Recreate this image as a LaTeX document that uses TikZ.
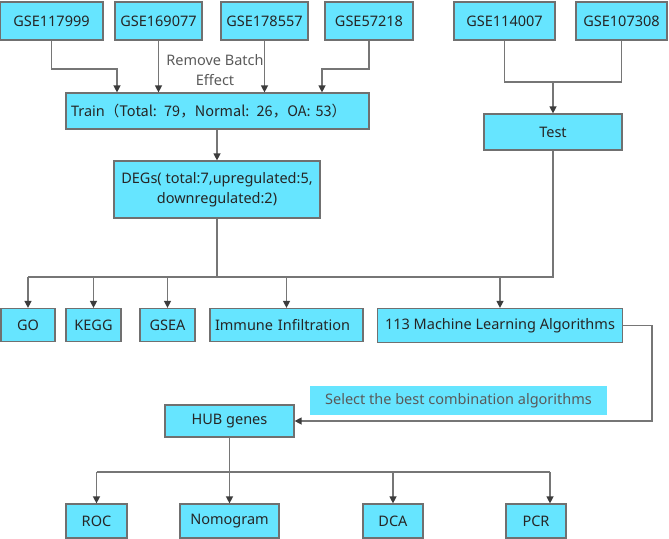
\documentclass[tikz,border=0pt]{standalone}
\usepackage{fontspec}
\setmainfont{Noto Sans}
\newfontfamily\cjk{Noto Sans CJK SC}
\usetikzlibrary{arrows.meta}

\definecolor{celeste}{RGB}{102,229,255}
\definecolor{borde}{RGB}{112,112,112}
\definecolor{linea}{RGB}{118,118,118}
\definecolor{punta}{RGB}{60,60,60}
\definecolor{texto}{RGB}{38,38,38}
\definecolor{nota}{RGB}{90,90,90}

\begin{document}
\begin{tikzpicture}[x=1pt,y=-1pt,
		caja/.style={draw=borde, line width=1.2pt, fill=celeste, inner sep=0pt,
			text=texto, font=\fontsize{14.5}{20}\selectfont},
		conector/.style={draw=linea, line width=1.3pt},
		flecha/.style={conector, -{Triangle[length=7pt,width=7pt,color=punta]}},
		rotulo/.style={text=nota, align=center, font=\fontsize{14.5}{20}\selectfont}]
		
		% Marco de la figura completa
		\useasboundingbox (0,0) rectangle (669,538);
		
		% Fila superior: conjuntos de datos GEO
		\node[caja, minimum width=103pt, minimum height=38pt] (gse1) at (51.5,21) {GSE117999};
		\node[caja, minimum width=87pt, minimum height=38pt] (gse2) at (158.5,21) {GSE169077};
		\node[caja, minimum width=87pt, minimum height=38pt] (gse3) at (264.5,21) {GSE178557};
		\node[caja, minimum width=88pt, minimum height=38pt] (gse4) at (369,21) {GSE57218};
		\node[caja, minimum width=101pt, minimum height=38pt] (gse5) at (504.5,21) {GSE114007};
		\node[caja, minimum width=91pt, minimum height=38pt] (gse6) at (621.5,21) {GSE107308};
		
		% Texto entre las flechas de entrenamiento
		\node[rotulo] (lote) at (215,70) {Remove Batch\\Effect};
		
		% Conjuntos de entrenamiento y prueba
		\node[caja, text width=293pt, inner xsep=5pt, minimum height=36pt, align=left] (train) at (217.5,111)
			{Train\cjk{（}Total: 79\cjk{，}Normal: 26\cjk{，}OA: 53\cjk{）}};
		\node[caja, minimum width=138pt, minimum height=36pt] (test) at (553,132) {Test};
		\node[caja, minimum width=206pt, minimum height=57pt, align=center] (degs) at (217,189.5)
			{DEGs( total:7,upregulated:5,\\downregulated:2)};
		
		% Fila de analisis
		\node[caja, minimum width=54pt, minimum height=33pt] (go) at (28,325) {GO};
		\node[caja, minimum width=55pt, minimum height=33pt] (kegg) at (93.5,325) {KEGG};
		\node[caja, minimum width=55pt, minimum height=33pt] (gsea) at (167.5,325) {GSEA};
		\node[caja, text width=143pt, inner xsep=5pt, minimum height=33pt, align=left] (immune) at (286.5,325) {Immune Infiltration};
		\node[caja, minimum width=245pt, minimum height=34pt] (ml) at (500,325.5) {113 Machine Learning Algorithms};
		
		% Rotulo sombreado y genes centrales
		\node[caja, draw=none, text=nota, minimum width=297pt, minimum height=29pt] (selec) at (458.5,400.5) {Select the best combination algorithms};
		\node[caja, minimum width=129pt, minimum height=32pt] (hub) at (229.5,421) {HUB genes};
		
		% Fila inferior: validacion
		\node[caja, minimum width=61pt, minimum height=34pt] (roc) at (96.5,521) {ROC};
		\node[caja, minimum width=99pt, minimum height=34pt] (nomo) at (229.5,521) {Nomogram};
		\node[caja, minimum width=60pt, minimum height=34pt] (dca) at (393,521) {DCA};
		\node[caja, minimum width=60pt, minimum height=34pt] (pcr) at (536,521) {PCR};
		
		% Puntos de quiebre de los conectores
		\coordinate (codo1) at (117,69);
		\coordinate (codo4) at (322,69);
		\coordinate (union) at (553,82);
		\coordinate (bus) at (0,277);
		\coordinate (bus2) at (0,472);
		\coordinate (pcrin) at ([xshift=14pt]pcr.north);
		
		% Flechas hacia el conjunto de entrenamiento
		\draw[flecha] (gse1.south) |- (codo1) -- (codo1 |- train.north);
		\draw[flecha] (gse2.south) -- (gse2.south |- train.north);
		\draw[flecha] (gse3.south) -- (gse3.south |- train.north);
		\draw[flecha] (gse4.south) |- (codo4) -- (codo4 |- train.north);
		\draw[flecha] (degs.north |- train.south) -- (degs.north);
		
		% Flechas hacia el conjunto de prueba
		\draw[conector] (gse5.south) |- (union) -| (gse6.south);
		\draw[flecha] (union) -- (test.north);
		
		% Barra de reparto hacia los analisis
		\draw[conector] (degs.south) -- (degs.south |- bus);
		\draw[conector] (test.south) |- (go.north |- bus);
		\foreach \n in {go,kegg,gsea,immune,ml}
			\draw[flecha] (\n.north |- bus) -- (\n.north);
		
		% De los algoritmos a los genes centrales
		\draw[flecha] (ml.east) -- ++(29,0) |- (hub.east);
		
		% Barra de reparto hacia la validacion
		\draw[flecha] (hub.south) -- (nomo.north);
		\draw[conector] (roc.north |- bus2) -- (pcrin |- bus2);
		\foreach \n in {roc.north,dca.north,pcrin}
			\draw[flecha] (\n |- bus2) -- (\n);
		
	\end{tikzpicture}
\end{document}
